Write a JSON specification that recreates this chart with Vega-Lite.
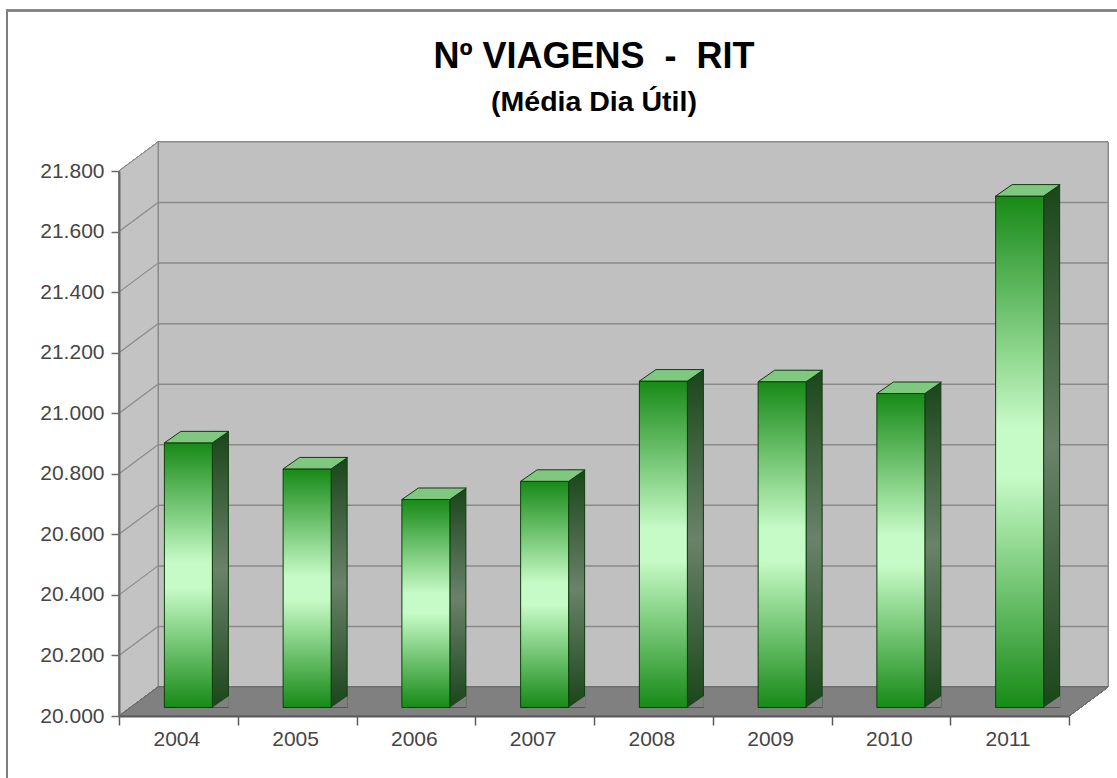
{
  "$schema": "https://vega.github.io/schema/vega-lite/v6.json",
  "width": 950,
  "height": 545,
  "autosize": {"type": "none"},
  "padding": {"left": 119, "top": 171, "right": 48, "bottom": 62},
  "background": "#ffffff",
  "config": {
    "view": {"stroke": null},
    "font": "Liberation Sans"
  },
  "title": {
    "text": "Nº VIAGENS\u00a0 -\u00a0 RIT",
    "subtitle": "(Média Dia Útil)",
    "anchor": "middle",
    "frame": "group",
    "offset": -110,
    "font": "Liberation Sans",
    "fontSize": 36,
    "fontWeight": "bold",
    "color": "#000000",
    "subtitleFont": "Liberation Sans",
    "subtitleFontSize": 28.5,
    "subtitleFontWeight": "bold",
    "subtitleColor": "#000000",
    "subtitlePadding": 12
  },
  "datasets": {
    "bars": [
      {"year": "2004", "viagens": 20874},
      {"year": "2005", "viagens": 20788},
      {"year": "2006", "viagens": 20687},
      {"year": "2007", "viagens": 20747},
      {"year": "2008", "viagens": 21078},
      {"year": "2009", "viagens": 21076},
      {"year": "2010", "viagens": 21037},
      {"year": "2011", "viagens": 21689}
    ],
    "ticks": [
      {"v": 20200}, {"v": 20400}, {"v": 20600}, {"v": 20800},
      {"v": 21000}, {"v": 21200}, {"v": 21400}, {"v": 21600}
    ]
  },
  "data": {"name": "bars"},
  "layer": [
    {
      "mark": {"type": "point", "shape": "M-171.375,80L-171.375,-705.5L960,-705.5L960,80Z", "size": 4, "filled": false, "stroke": "#7f7f7f", "strokeWidth": 1.5, "opacity": 1},
      "encoding": {
        "x": {"datum": "2004", "type": "nominal"},
        "y": {"datum": 20000, "type": "quantitative"}
      }
    },
    {
      "mark": {"type": "point", "shape": "M-20.375,-29L929.625,-29L929.625,-574L-20.375,-574Z", "size": 4, "filled": true, "fill": "#c0c0c0", "stroke": "#8a8a8a", "strokeWidth": 1, "opacity": 1},
      "encoding": {
        "x": {"datum": "2004", "type": "nominal"},
        "y": {"datum": 20000, "type": "quantitative"}
      }
    },
    {
      "data": {"name": "ticks"},
      "mark": {"type": "rule", "stroke": "#8a8a8a", "strokeWidth": 1.5, "xOffset": 39, "x2Offset": 39, "yOffset": -29, "y2Offset": -29},
      "encoding": {
        "y": {"field": "v", "type": "quantitative"}
      }
    },
    {
      "mark": {"type": "point", "shape": "M-59.375,0L-20.375,-29L-20.375,-574L-59.375,-545Z", "size": 4, "filled": true, "fill": "#c3c3c3", "stroke": "#8a8a8a", "strokeWidth": 1, "opacity": 1},
      "encoding": {
        "x": {"datum": "2004", "type": "nominal"},
        "y": {"datum": 20000, "type": "quantitative"}
      }
    },
    {
      "data": {"name": "ticks"},
      "mark": {"type": "rule", "stroke": "#8a8a8a", "strokeWidth": 1.2, "x2Offset": 39, "y2Offset": -29},
      "encoding": {
        "x": {"value": 0},
        "x2": {"value": 0},
        "y": {"field": "v", "type": "quantitative"},
        "y2": {"field": "v"}
      }
    },
    {
      "mark": {"type": "point", "shape": "M-59.375,0L890.625,0L929.625,-29L-20.375,-29Z", "size": 4, "filled": true, "fill": "#808080", "stroke": "#6e6e6e", "strokeWidth": 1, "opacity": 1},
      "encoding": {
        "x": {"datum": "2004", "type": "nominal"},
        "y": {"datum": 20000, "type": "quantitative"}
      }
    },
    {
      "mark": {
        "type": "bar", "width": 16, "xOffset": 42, "yOffset": -19.5, "y2Offset": -8.5,
        "stroke": "#0d3d0d", "strokeWidth": 1,
        "fill": {"gradient": "linear", "x1": 0, "y1": 0, "x2": 0, "y2": 1,
          "stops": [{"offset": 0, "color": "#1a461a"}, {"offset": 0.5, "color": "#6a826a"}, {"offset": 1, "color": "#1a461a"}]}
      },
      "encoding": {
        "x": {"field": "year", "type": "nominal"},
        "y": {"field": "viagens", "type": "quantitative"},
        "y2": {"datum": 20000}
      }
    },
    {
      "mark": {"type": "point", "shape": "M24,0L40.5,0L40.5,-11.5Z", "size": 4, "filled": true, "fill": "#808080", "strokeWidth": 0, "opacity": 1, "xOffset": 10, "yOffset": -8.5},
      "encoding": {
        "x": {"field": "year", "type": "nominal"},
        "y": {"datum": 20000, "type": "quantitative"}
      }
    },
    {
      "mark": {
        "type": "bar", "width": {"band": 0.404}, "xOffset": 10, "yOffset": -8.5, "y2Offset": -8.5,
        "stroke": "#0d3d0d", "strokeWidth": 1,
        "fill": {"gradient": "linear", "x1": 0, "y1": 0, "x2": 0, "y2": 1,
          "stops": [{"offset": 0, "color": "#178a17"}, {"offset": 0.45, "color": "#c6fac6"}, {"offset": 0.55, "color": "#c6fac6"}, {"offset": 1, "color": "#178a17"}]}
      },
      "encoding": {
        "x": {
          "field": "year", "type": "nominal", "sort": "ascending",
          "scale": {"paddingInner": 0, "paddingOuter": 0},
          "axis": {
            "title": null, "labelAngle": 0, "tickBand": "extent",
            "labelAlign": "center", "labelOffset": -2,
            "domainColor": "#5a5a5a", "domainWidth": 2,
            "tickColor": "#5a5a5a", "tickWidth": 1.5, "tickSize": 9,
            "labelFont": "Liberation Sans", "labelFontSize": 21, "labelColor": "#454545",
            "labelPadding": 14, "zindex": 1
          }
        },
        "y": {
          "field": "viagens", "type": "quantitative",
          "scale": {"domain": [20000, 21800], "zero": false, "nice": false},
          "axis": {
            "title": null, "grid": false,
            "values": [20000, 20200, 20400, 20600, 20800, 21000, 21200, 21400, 21600, 21800],
            "labelExpr": "replace(format(datum.value, ','), ',', '.')",
            "domainColor": "#6a6a6a", "domainWidth": 2,
            "tickColor": "#6a6a6a", "tickWidth": 1.5, "tickSize": 8,
            "labelFont": "Liberation Sans", "labelFontSize": 21, "labelColor": "#454545",
            "labelPadding": 7, "zindex": 1
          }
        },
        "y2": {"datum": 20000}
      }
    },
    {
      "mark": {"type": "point", "shape": "M-24,0L24,0L40.5,-11.5L-7.5,-11.5Z", "size": 4, "filled": true, "fill": "#80c880", "stroke": "#0d3d0d", "strokeWidth": 1, "opacity": 1, "xOffset": 10, "yOffset": -8.5},
      "encoding": {
        "x": {"field": "year", "type": "nominal"},
        "y": {"field": "viagens", "type": "quantitative"}
      }
    }
  ]
}
